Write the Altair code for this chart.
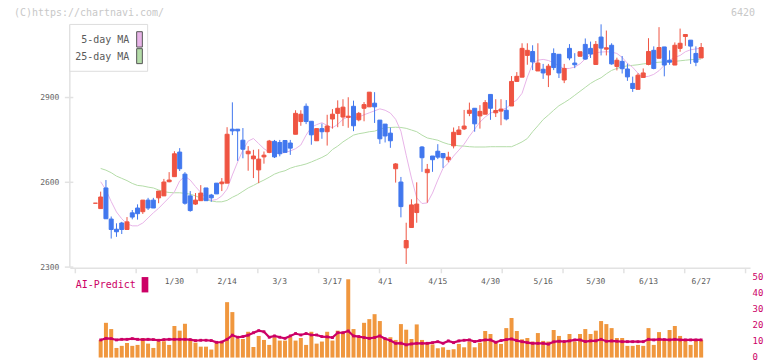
import altair as alt
import pandas as pd

FONT = "DejaVu Sans Mono"

# ---- candle data (first entry is the day before the first volume bar) ----
opens = [2526, 2507, 2580, 2470, 2434, 2456, 2433, 2492, 2509, 2496,
         2537, 2537, 2545, 2552, 2602, 2620, 2707, 2629, 2552, 2523,
         2535, 2580, 2555, 2597, 2595, 2597, 2788, 2788, 2749, 2701,
         2683, 2644, 2690, 2706, 2745, 2741, 2748, 2739, 2770, 2815,
         2869, 2816, 2747, 2790, 2779, 2824, 2844, 2831, 2830, 2869,
         2821, 2862, 2867, 2880, 2820, 2806, 2774, 2648, 2601, 2368,
         2440, 2493, 2725, 2634, 2693, 2710, 2702, 2680, 2729, 2769,
         2789, 2844, 2862, 2835, 2841, 2911, 2846, 2852, 2855, 2870,
         2957, 2972, 3049, 3063, 2994, 3000, 2980, 3056, 3053, 2962,
         3074, 3022, 3046, 3088, 3074, 3017, 3114, 3071, 3085, 3010,
         3028, 3001, 2950, 2929, 2971, 3017, 3067, 3039, 3079, 3032,
         3015, 3074, 3116, 3103, 3056, 3040]
highs = [2526, 2567, 2608, 2479, 2455, 2460, 2477, 2502, 2522, 2537,
         2545, 2545, 2569, 2612, 2636, 2710, 2721, 2636, 2569, 2562,
         2590, 2580, 2559, 2597, 2615, 2795, 2883, 2788, 2792, 2728,
         2715, 2717, 2709, 2750, 2750, 2750, 2748, 2750, 2855, 2855,
         2879, 2816, 2790, 2808, 2839, 2859, 2890, 2894, 2901, 2889,
         2849, 2884, 2919, 2919, 2820, 2806, 2794, 2668, 2619, 2457,
         2540, 2600, 2728, 2665, 2693, 2735, 2702, 2708, 2794, 2799,
         2856, 2882, 2862, 2873, 2891, 2911, 2894, 2894, 2891, 2976,
         2990, 3092, 3092, 3085, 3092, 3019, 3019, 3074, 3053, 3019,
         3089, 3057, 3062, 3109, 3098, 3100, 3159, 3137, 3092, 3041,
         3047, 3020, 2974, 2986, 3003, 3110, 3081, 3149, 3079, 3067,
         3095, 3144, 3123, 3103, 3081, 3093]
lows = [2526, 2507, 2471, 2401, 2407, 2417, 2433, 2469, 2468, 2488,
        2502, 2509, 2526, 2552, 2600, 2620, 2640, 2521, 2496, 2520,
        2535, 2535, 2531, 2559, 2569, 2597, 2767, 2676, 2685, 2641,
        2615, 2597, 2666, 2703, 2686, 2692, 2706, 2697, 2770, 2800,
        2806, 2733, 2747, 2754, 2730, 2790, 2795, 2799, 2793, 2781,
        2816, 2816, 2867, 2810, 2736, 2741, 2722, 2599, 2476, 2311,
        2440, 2457, 2637, 2528, 2637, 2682, 2651, 2671, 2720, 2769,
        2785, 2834, 2779, 2790, 2841, 2821, 2831, 2802, 2819, 2870,
        2957, 2972, 3016, 2997, 2994, 2966, 2937, 2997, 2969, 2951,
        3032, 3004, 3046, 3034, 3040, 3017, 3049, 3049, 3016, 2996,
        2985, 2959, 2920, 2929, 2971, 3014, 3000, 3039, 2975, 3016,
        3015, 3062, 3083, 3019, 3011, 3040]
closes = [2526, 2548, 2471, 2433, 2425, 2433, 2460, 2477, 2489, 2537,
          2509, 2509, 2569, 2601, 2608, 2701, 2648, 2526, 2500, 2537,
          2562, 2535, 2545, 2559, 2601, 2770, 2782, 2782, 2717, 2710,
          2693, 2682, 2696, 2746, 2690, 2701, 2706, 2721, 2844, 2841,
          2815, 2768, 2790, 2779, 2799, 2841, 2862, 2866, 2834, 2800,
          2844, 2875, 2919, 2867, 2754, 2764, 2747, 2665, 2514, 2394,
          2520, 2523, 2687, 2646, 2680, 2689, 2687, 2689, 2777, 2785,
          2799, 2855, 2807, 2851, 2882, 2862, 2854, 2859, 2824, 2957,
          2975, 3074, 3067, 3026, 3022, 2987, 3011, 3006, 2987, 3003,
          3040, 3016, 3062, 3036, 3054, 3088, 3075, 3076, 3019, 3032,
          3002, 2973, 2932, 2979, 2987, 3063, 3003, 3077, 3015, 3025,
          3085, 3092, 3123, 3082, 3025, 3077]

# ---- daily series (from the first volume bar) ----
volume = [11.0, 21.7, 17.8, 6.0, 7.3, 9.1, 7.3, 7.9, 12.2, 8.7,
          6.0, 10.2, 10.2, 7.9, 19.7, 16.8, 21.1, 11.4, 9.3, 6.8,
          6.8, 5.0, 9.5, 10.2, 34.6, 28.4, 12.0, 11.6, 16.1, 6.6,
          13.5, 11.0, 7.9, 12.7, 10.6, 10.6, 12.7, 10.6, 12.2, 7.9,
          16.1, 8.7, 10.0, 16.1, 10.6, 16.8, 16.1, 48.9, 17.8, 12.5,
          21.7, 24.0, 27.1, 22.8, 11.6, 12.7, 11.0, 20.9, 17.4, 11.6,
          20.7, 11.0, 9.3, 8.2, 5.8, 6.4, 4.8, 5.2, 8.5, 6.4,
          10.0, 6.4, 9.3, 16.6, 14.7, 10.0, 8.5, 18.4, 24.7, 16.6,
          11.4, 12.2, 10.0, 15.3, 10.4, 10.0, 17.2, 13.5, 9.3, 14.7,
          10.0, 14.7, 17.8, 14.7, 16.8, 22.8, 20.9, 18.4, 12.2, 12.2,
          7.3, 7.3, 7.9, 7.3, 18.4, 7.9, 15.9, 11.0, 17.2, 19.7,
          13.5, 10.4, 7.9, 10.4, 11.0]
ai_predict = [11.0, 12.0, 11.8, 11.0, 11.4, 11.4, 11.8, 11.4, 11.2, 11.4,
              11.2, 10.8, 11.2, 11.4, 11.4, 11.4, 11.4, 11.2, 10.6, 10.8,
              10.8, 10.6, 9.5, 9.7, 11.4, 14.0, 12.7, 13.1, 14.0, 15.5,
              16.8, 16.1, 12.7, 13.5, 12.7, 12.0, 13.5, 15.0, 14.1, 15.0,
              14.1, 14.1, 13.1, 12.9, 12.5, 15.5, 15.5, 16.6, 13.5, 13.1,
              12.5, 12.0, 12.5, 13.5, 11.8, 10.6, 8.9, 9.0, 7.9, 8.5,
              8.9, 8.9, 8.9, 9.3, 9.9, 8.9, 10.4, 9.3, 10.4, 10.8,
              11.0, 10.0, 10.6, 11.0, 11.0, 9.5, 10.6, 11.2, 11.6, 10.6,
              9.9, 9.3, 8.9, 8.9, 8.9, 8.4, 9.8, 10.2, 10.0, 10.4,
              11.0, 11.0, 10.0, 10.4, 10.4, 11.4, 10.2, 10.4, 10.2, 9.9,
              9.9, 9.9, 9.9, 9.9, 11.4, 11.0, 11.4, 11.2, 11.0, 11.4,
              11.0, 11.0, 11.0, 11.0, 11.0]
ma5 = [2602, 2573, 2532, 2495, 2471, 2453, 2446, 2446, 2456, 2474,
       2492, 2508, 2527, 2546, 2566, 2605, 2621, 2608, 2585, 2564,
       2544, 2536, 2539, 2552, 2576, 2626, 2672, 2714, 2746, 2755,
       2737, 2719, 2707, 2703, 2703, 2705, 2711, 2719, 2732, 2767,
       2795, 2804, 2811, 2801, 2793, 2805, 2823, 2832, 2829, 2831,
       2839, 2846, 2853, 2860, 2855, 2845, 2823, 2781, 2696, 2615,
       2545, 2525, 2527, 2562, 2608, 2650, 2668, 2693, 2714, 2735,
       2763, 2788, 2813, 2831, 2845, 2852, 2857, 2862, 2880, 2891,
       2915, 2972, 3019, 3032, 3035, 3031, 3023, 3011, 3002, 3003,
       3008, 3019, 3037, 3051, 3058, 3061, 3062, 3061, 3056, 3042,
       3021, 3007, 2986, 2973, 2975, 2982, 2995, 3014, 3032, 3042,
       3049, 3062, 3069, 3072, 3075]
ma25 = [2649, 2643, 2634, 2622, 2614, 2606, 2596, 2589, 2587, 2583,
        2580, 2573, 2567, 2564, 2563, 2563, 2561, 2558, 2552, 2544,
        2538, 2534, 2531, 2531, 2536, 2547, 2556, 2568, 2580, 2589,
        2599, 2608, 2618, 2629, 2636, 2641, 2650, 2656, 2660, 2665,
        2672, 2680, 2688, 2698, 2716, 2728, 2743, 2755, 2767, 2772,
        2775, 2779, 2781, 2788, 2793, 2794, 2795, 2794, 2791, 2785,
        2779, 2767, 2757, 2753, 2749, 2741, 2735, 2732, 2729, 2728,
        2726, 2725, 2725, 2725, 2726, 2726, 2726, 2726, 2726, 2734,
        2743, 2755, 2779, 2800, 2822, 2838, 2855, 2871, 2882, 2894,
        2908, 2922, 2936, 2950, 2961, 2970, 2984, 2996, 3003, 3009,
        3012, 3014, 3016, 3019, 3021, 3023, 3025, 3026, 3027, 3028,
        3030, 3032, 3034, 3035, 3036]

date_labels = ["1/30", "2/14", "3/3", "3/17", "4/1", "4/15",
               "4/30", "5/16", "5/30", "6/13", "6/27"]
date_label_days = [14, 24, 34, 44, 54, 64, 74, 84, 94, 104, 114]
price_ticks = [2300, 2600, 2900]
volume_ticks = [0, 10, 20, 30, 40, 50]

# ---- tables ----
candles = pd.DataFrame({
    "i": list(range(-1, len(opens) - 1)),
    "open": opens, "high": highs, "low": lows, "close": closes,
})
candles["dir"] = ["up" if c >= o else "down" for o, c in zip(opens, closes)]
daily = pd.DataFrame({"i": list(range(len(volume))), "vol": volume,
                      "ai": ai_predict, "ma5": ma5, "ma25": ma25})
labels_df = pd.DataFrame({"i": date_label_days, "label": date_labels})
pticks_df = pd.DataFrame({"v": price_ticks})

# ---- styles ----
RED, BLUE = "#ef5442", "#4177ee"
PINK, GREEN = "#e8b4e8", "#b4dca8"
ORANGE, CRIMSON = "#f0973e", "#cc0066"
GRID, TXT = "#e2e2e2", "#5a5a5a"

X_LO, X_HI = -4.907, 122.33
xscale = alt.Scale(domain=[X_LO, X_HI], nice=False, zero=False)
pscale = alt.Scale(domain=[1979.9, 3172.8], nice=False, zero=False)
vscale = alt.Scale(domain=[0, 210.6], nice=False, zero=False)

x_axis = alt.Axis(values=[X_LO + k * (X_HI - X_LO) / 11 for k in range(12)],
                  labels=False, title=None, grid=False, domainColor=GRID,
                  domainWidth=1.5, tickColor=GRID, tickWidth=1.5, tickSize=5,
                  offset=-90)
X = alt.X("i:Q", scale=xscale, axis=x_axis)
price_axis = alt.Axis(values=price_ticks, format="d", title=None, grid=False,
                      ticks=False, domain=False, labelFont=FONT,
                      labelFontSize=8, labelColor="#666", labelPadding=11,
                      orient="left", labelFlush=False)
vol_axis = alt.Axis(values=volume_ticks, format="d", title=None, grid=False,
                    ticks=False, domain=False, labelFont=FONT,
                    labelFontSize=9, labelColor=CRIMSON, labelPadding=2,
                    orient="right", labelFlush=False, labelOverlap=False,
                    labelOffset=-1)

dir_scale = alt.Scale(domain=["up", "down"], range=[RED, BLUE])


def text_layer(txt, x, y, color, size, align="left"):
    return alt.Chart(pd.DataFrame({"t": [txt]})).mark_text(
        font=FONT, fontSize=size, color=color, align=align, baseline="middle"
    ).encode(text="t:N", x=alt.value(x), y=alt.value(y))


def rect_layer(x, x2, y, y2, fill, stroke=None):
    kw = {"fill": fill}
    if stroke:
        kw.update(stroke=stroke, strokeWidth=1)
    return alt.Chart(pd.DataFrame({"k": [0]})).mark_rect(**kw).encode(
        x=alt.value(x), x2=alt.value(x2), y=alt.value(y), y2=alt.value(y2))


left_line = alt.Chart(pd.DataFrame({"v": [price_ticks[0]]})).mark_rule(
    color=GRID, strokeWidth=1.5).encode(
    x=alt.value(0), y=alt.Y("v:Q", scale=pscale, axis=price_axis), y2=alt.value(4))
ptick_marks = alt.Chart(pticks_df).mark_rule(color=GRID, strokeWidth=1.5).encode(
    y=alt.Y("v:Q", scale=pscale, axis=price_axis), x=alt.value(-5), x2=alt.value(3.5))

ma25_line = alt.Chart(daily).mark_line(color=GREEN, strokeWidth=1).encode(
    x=X, y=alt.Y("ma25:Q", scale=pscale, axis=price_axis))
ma5_line = alt.Chart(daily).mark_line(color=PINK, strokeWidth=1).encode(
    x=X, y=alt.Y("ma5:Q", scale=pscale, axis=price_axis))

wicks = alt.Chart(candles).mark_rule(strokeWidth=1).encode(
    x=X, y=alt.Y("low:Q", scale=pscale, axis=price_axis), y2="high:Q",
    color=alt.Color("dir:N", scale=dir_scale, legend=None))
bodies = alt.Chart(candles).mark_bar(size=4, strokeWidth=1).encode(
    x=X, y=alt.Y("open:Q", scale=pscale, axis=price_axis), y2="close:Q",
    color=alt.Color("dir:N", scale=dir_scale, legend=None),
    stroke=alt.Stroke("dir:N", scale=dir_scale, legend=None))

date_text = alt.Chart(labels_df).mark_text(
    font=FONT, fontSize=8, color=TXT, align="center", baseline="middle").encode(
    x=X, y=alt.value(262.3), text="label:N")

legend_parts = [
    rect_layer(0, 78, 4, 51, "white", "#dddddd"),
    text_layer("5-day MA", 59.5, 20, TXT, 10, "right"),
    text_layer("25-day MA", 59.5, 37, TXT, 10, "right"),
    rect_layer(67, 72.7, 11.3, 26.7, PINK, "#555555"),
    rect_layer(67, 72.7, 28.3, 43.3, GREEN, "#555555"),
]
misc_text = [
    text_layer("(C)https://chartnavi.com/", -56, -7.5, "#c8c8c8", 10),
    text_layer("6420", 687, -7.5, "#c8c8c8", 10, "right"),
    text_layer("AI-Predict", 6, 265.7, CRIMSON, 10),
    rect_layer(72, 78.7, 257.3, 272.7, CRIMSON),
]

price_layer = alt.layer(left_line, ptick_marks, ma25_line, ma5_line, wicks, bodies,
                        date_text, *legend_parts, *misc_text)

vol_bars = alt.Chart(daily).mark_bar(size=4, color=ORANGE).encode(
    x=X, y=alt.Y("vol:Q", scale=vscale, axis=vol_axis))
ai_line = alt.Chart(daily).mark_line(color=CRIMSON, strokeWidth=2.2).encode(
    x=X, y=alt.Y("ai:Q", scale=vscale, axis=vol_axis))
ai_pts = alt.Chart(daily).mark_square(color=CRIMSON, size=8, opacity=1).encode(
    x=X, y=alt.Y("ai:Q", scale=vscale, axis=vol_axis))
vol_layer = alt.layer(vol_bars, ai_line, ai_pts)

chart = alt.layer(price_layer, vol_layer).resolve_scale(
    y="independent", color="independent", stroke="independent"
).properties(
    width=682, height=338,
    padding={"left": 62, "top": 12, "right": 14, "bottom": 8},
    autosize=alt.AutoSizeParams(type="none"),
    background="white",
).configure_view(stroke=None)

chart.save("out.html", embed_options={"renderer": "svg", "actions": False})
